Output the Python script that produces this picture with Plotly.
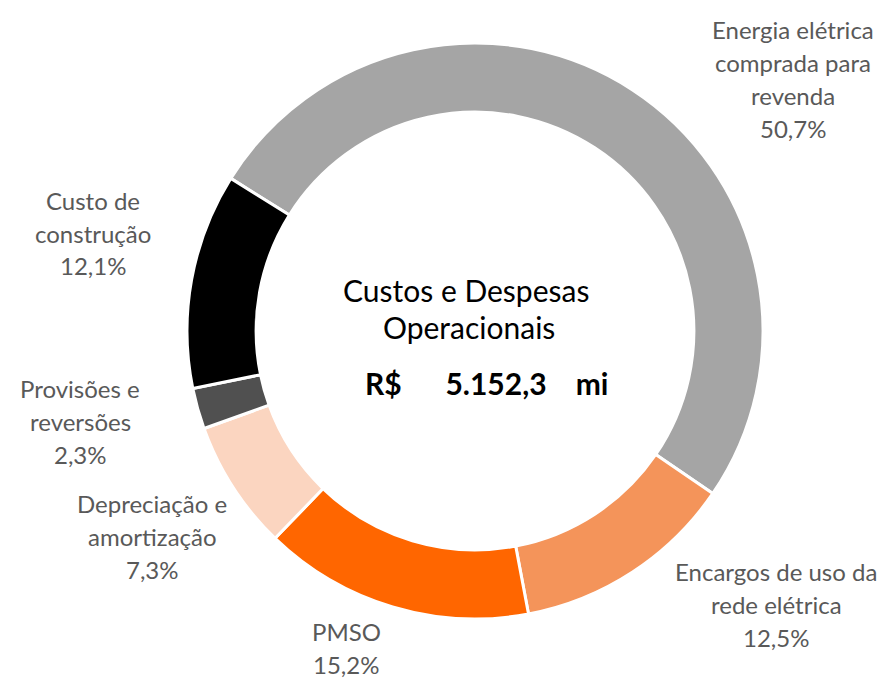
import plotly.graph_objects as go

categories = ["Energia elétrica comprada para revenda", "Encargos de uso da rede elétrica",
              "PMSO", "Depreciação e amortização", "Provisões e reversões", "Custo de construção"]
values = [50.7, 12.5, 15.2, 7.3, 2.3, 12.1]
label_lines = [["Energia elétrica", "comprada para", "revenda"],
               ["Encargos de uso da", "rede elétrica"],
               ["PMSO"],
               ["Depreciação e", "amortização"],
               ["Provisões e", "reversões"],
               ["Custo de", "construção"]]
colors = ["#A5A5A5", "#F4945A", "#FF6600", "#FBD5C0", "#505050", "#000000"]
# label block centre positions (pixels) - layout only
label_pos = [(793, 79), (776, 604), (346, 648), (152, 536), (80, 421), (93, 233)]
total_text = "5.152,3"

W, H = 887, 680
cx, cy, r = 475, 331, 288

fig = go.Figure(go.Pie(
    labels=categories, values=values, sort=False, direction="clockwise",
    rotation=-58, hole=0.76, textinfo="none", hoverinfo="label+percent",
    marker=dict(colors=colors, line=dict(color="white", width=3)),
    domain=dict(x=[(cx - r) / W, (cx + r) / W], y=[(H - cy - r) / H, (H - cy + r) / H]),
    showlegend=False,
))

annotations = []
line_h = 33
for lines, val, (px, py) in zip(label_lines, values, label_pos):
    all_lines = lines + [f"{val:.1f}".replace(".", ",") + "%"]
    n = len(all_lines)
    for i, t in enumerate(all_lines):
        y = py + (i - (n - 1) / 2) * line_h
        annotations.append(dict(x=px / W, y=1 - y / H, xref="paper", yref="paper", text=t,
                                showarrow=False, xanchor="center", yanchor="middle", borderpad=0,
                                font=dict(family="Lato", size=24, color="#595959")))

annotations.append(dict(x=466 / W, y=1 - 290 / H, xref="paper", yref="paper", text="Custos e Despesas",
                        showarrow=False, font=dict(family="Lato", size=30, color="#000000")))
annotations.append(dict(x=469 / W, y=1 - 327 / H, xref="paper", yref="paper", text="Operacionais",
                        showarrow=False, font=dict(family="Lato", size=30, color="#000000")))
nb = "\u00a0"
annotations.append(dict(x=486 / W, y=1 - 383 / H, xref="paper", yref="paper",
                        text=f"<b>R${nb * 6}{total_text}{nb * 4}mi</b>",
                        showarrow=False, font=dict(family="Lato", size=30, color="#000000")))

fig.update_layout(width=W, height=H, margin=dict(l=0, r=0, t=0, b=0),
                  paper_bgcolor="white", plot_bgcolor="white", annotations=annotations)
fig.write_html("out.html", config={"displayModeBar": False},
               post_script="document.body.style.margin='0';")
